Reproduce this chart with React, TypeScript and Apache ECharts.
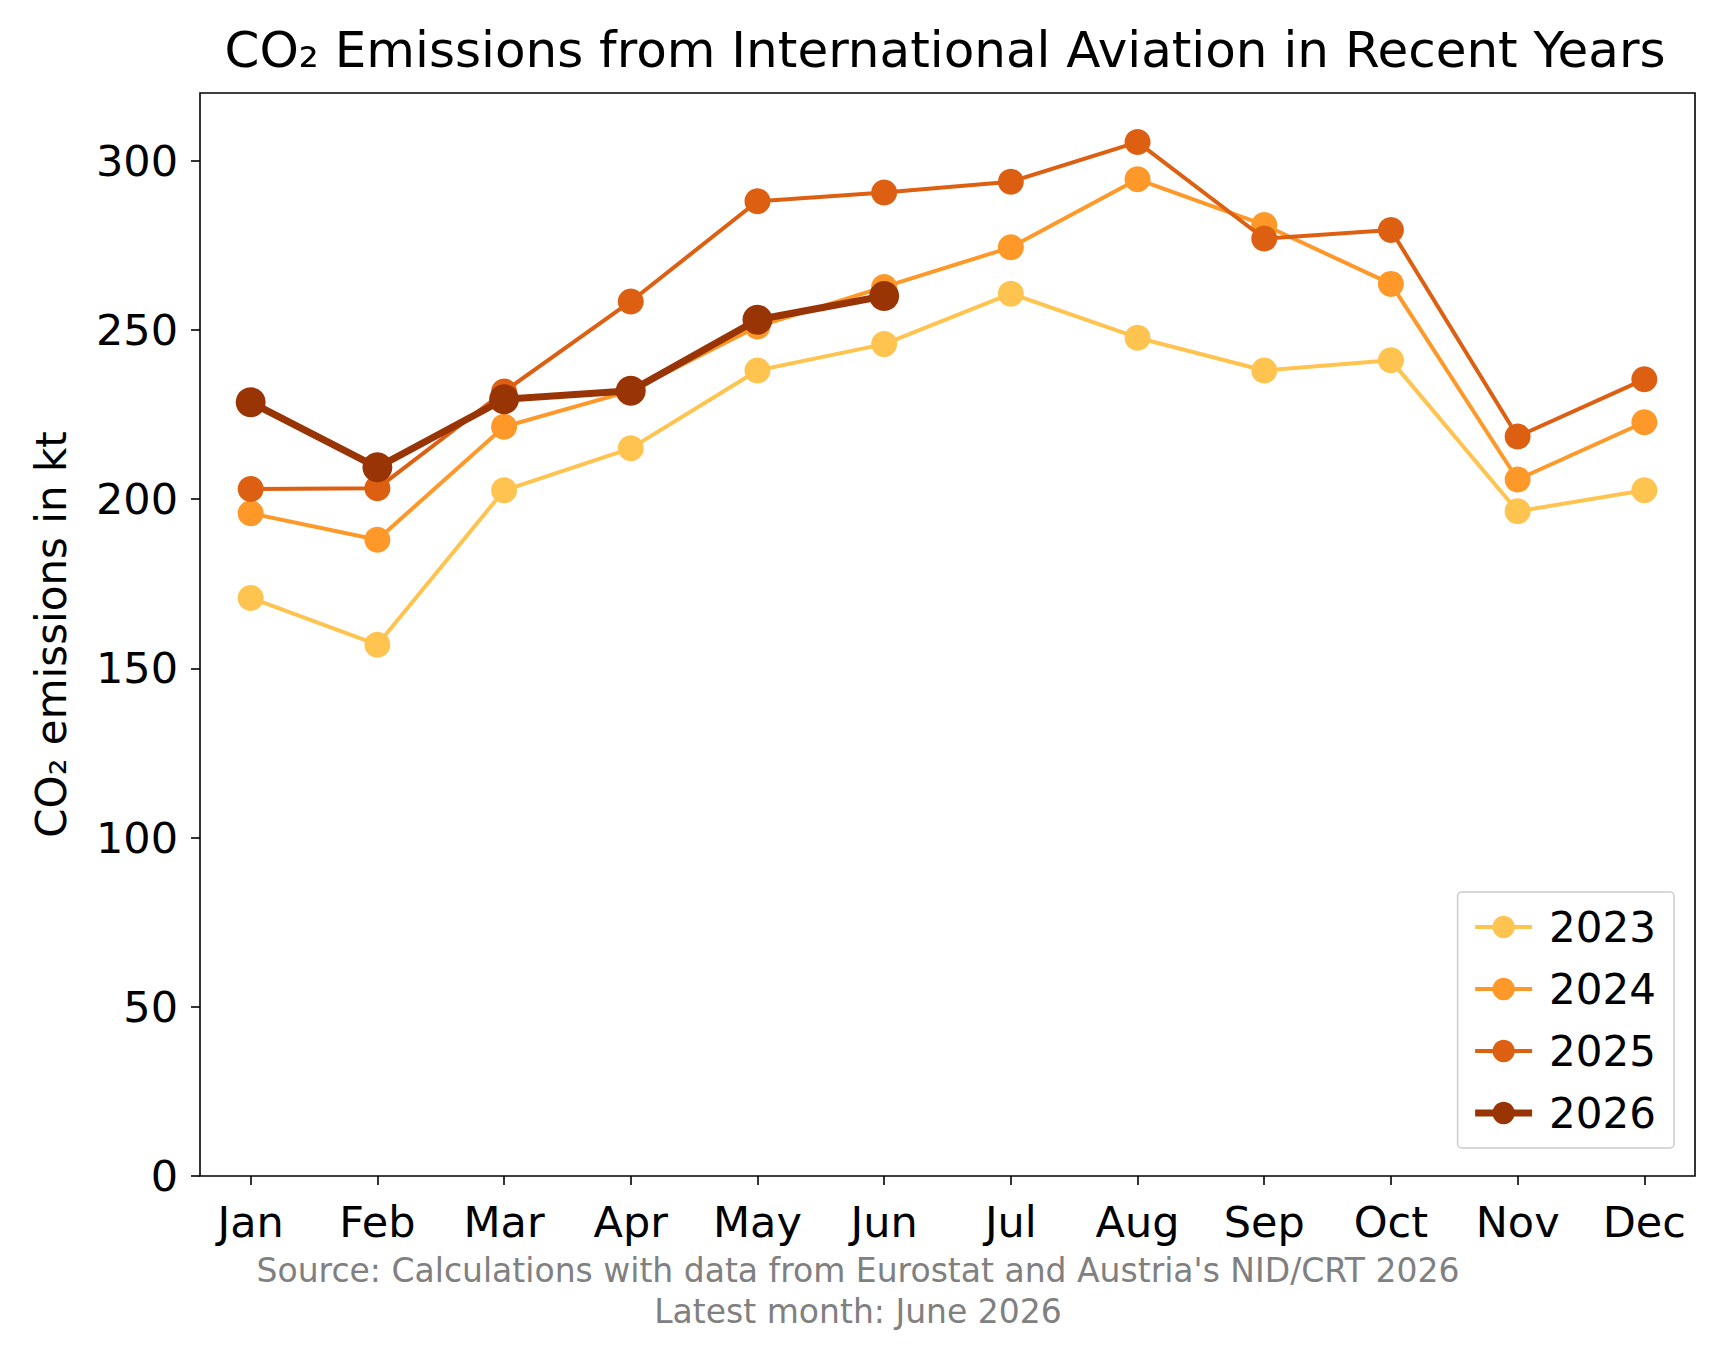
import * as echarts from 'echarts';
import { useEffect, useRef } from 'react';

const months = ['Jan', 'Feb', 'Mar', 'Apr', 'May', 'Jun', 'Jul', 'Aug', 'Sep', 'Oct', 'Nov', 'Dec'];
const years = ['2023', '2024', '2025', '2026'];
const colors = ['#fec44f', '#fe9929', '#dd6012', '#993404'];
const v2023 = [170.8, 157, 202.6, 215, 238, 245.8, 260.7, 247.7, 238, 241, 196.4, 202.6];
const v2024 = [195.8, 188, 221.4, 232, 251, 262.7, 274.4, 294.5, 281, 263.6, 205.8, 222.7];
const v2025 = [203, 203.2, 231.8, 258.4, 288, 290.6, 293.8, 305.5, 277, 279.5, 218.5, 235.4];
const v2026 = [228.6, 209.4, 229.5, 232, 253, 260];
const seriesValues = [v2023, v2024, v2025, v2026];
const yTicks = [0, 50, 100, 150, 200, 250, 300];

export default function App() {
  const ref = useRef<HTMLDivElement>(null);

  useEffect(() => {
    if (!ref.current) return;
    document.body.style.margin = '0';
    const chart = echarts.init(ref.current, null, { renderer: 'svg' });
    const font = 'DejaVu Sans';
    const widthOf = (k: number) => (k === 3 ? 7 : 4);

    chart.setOption({
      animation: false,
      backgroundColor: '#fff',
      textStyle: { fontFamily: font },
      title: {
        text: 'CO₂ Emissions from International Aviation in Recent Years',
        left: 940,
        top: 20,
        textAlign: 'center',
        textStyle: { fontFamily: font, fontSize: 50, fontWeight: 'normal', color: '#000' }
      },
      grid: {
        left: 200, right: 21, top: 93, bottom: 196,
        show: true, borderColor: '#000', borderWidth: 1.6, backgroundColor: 'transparent'
      },
      legend: {
        orient: 'vertical',
        right: 42,
        top: 892,
        padding: [14, 18, 14, 14],
        itemGap: 20,
        itemWidth: 57,
        itemHeight: 28,
        borderColor: '#ccc',
        borderWidth: 1.5,
        borderRadius: 4,
        backgroundColor: '#fff',
        textStyle: { fontFamily: font, fontSize: 42, color: '#000', padding: [0, 0, 0, 12] },
        data: years.map((y, k) => ({ name: y, lineStyle: { width: widthOf(k) } }))
      },
      xAxis: {
        type: 'value',
        min: -0.4,
        max: 11.4,
        splitLine: { show: false },
        axisLine: { show: false },
        axisTick: { show: true, length: 9, lineStyle: { color: '#000', width: 1.6 }, customValues: months.map((_, i) => i) },
        axisLabel: {
          customValues: months.map((_, i) => i),
          formatter: (v: number) => months[Math.round(v)],
          fontFamily: font, fontSize: 43, color: '#000', margin: 24
        }
      },
      yAxis: {
        type: 'value',
        min: 0,
        max: 320,
        interval: 50,
        name: 'CO₂ emissions in kt',
        nameLocation: 'middle',
        nameGap: 128,
        nameTextStyle: { fontFamily: font, fontSize: 42, color: '#000' },
        splitLine: { show: false },
        axisLine: { show: false, onZero: false },
        axisTick: { show: true, length: 9, lineStyle: { color: '#000', width: 1.6 }, customValues: yTicks },
        axisLabel: { customValues: yTicks, fontFamily: font, fontSize: 43, color: '#000', margin: 22 }
      },
      graphic: [
        {
          type: 'text', left: 'center', top: 1250,
          style: {
            text: "Source: Calculations with data from Eurostat and Austria's NID/CRT 2026\nLatest month: June 2026",
            fill: '#808080', font: `33px "${font}"`, textAlign: 'center', lineHeight: 41
          }
        }
      ],
      series: years.map((y, k) => ({
        name: y,
        type: 'line',
        data: seriesValues[k].map((v, i) => [i, v]),
        symbol: 'circle',
        symbolSize: k === 3 ? 30 : 26,
        lineStyle: { color: colors[k], width: widthOf(k) },
        itemStyle: { color: colors[k] },
        z: 2 + k
      }))
    });

    return () => chart.dispose();
  }, []);

  return <div ref={ref} style={{ width: 1716, height: 1372 }} />;
}
